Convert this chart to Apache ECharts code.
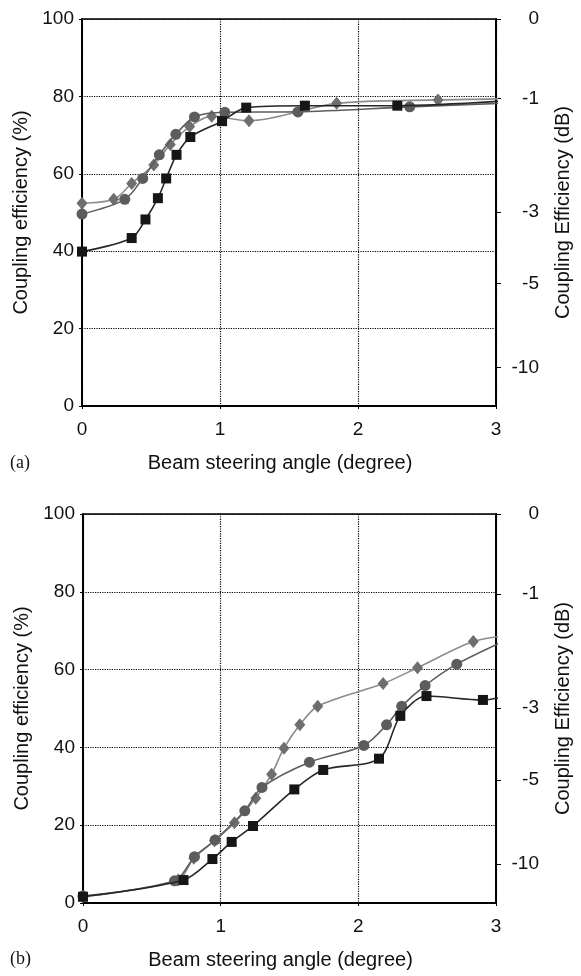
<!DOCTYPE html>
<html>
<head>
<meta charset="utf-8">
<script src="https://cdn.jsdelivr.net/npm/echarts@6/dist/echarts.min.js"></script>
<style>
html,body{margin:0;padding:0;background:#fff;}
#c{width:581px;height:976px;}
</style>
</head>
<body>
<div id="c"></div>
<script>
// ---- Data: panel (a) ----
var aSquareX = [0, 0.36, 0.46, 0.55, 0.61, 0.685, 0.785, 1.015, 1.19, 1.615, 2.285, 3.1];
var aSquareY = [39.9, 43.4, 48.2, 53.7, 58.8, 64.9, 69.5, 73.6, 77.1, 77.6, 77.6, 78.9];
var aCircleX = [0, 0.31, 0.44, 0.56, 0.68, 0.815, 1.035, 1.565, 2.375, 3.1];
var aCircleY = [49.6, 53.4, 58.8, 64.9, 70.2, 74.7, 75.9, 76.0, 77.3, 78.3];
var aDiamondX = [0, 0.23, 0.36, 0.52, 0.64, 0.78, 0.94, 1.21, 1.845, 2.58, 3.1];
var aDiamondY = [52.4, 53.4, 57.5, 62.3, 67.6, 72.2, 74.9, 73.7, 78.2, 79.1, 79.4];
// ---- Data: panel (b) ----
var bSquareX = [0, 0.73, 0.94, 1.08, 1.235, 1.535, 1.745, 2.15, 2.305, 2.495, 2.905, 3.1];
var bSquareY = [1.6, 5.9, 11.3, 15.7, 19.8, 29.2, 34.2, 37.1, 48.1, 53.2, 52.2, 53.4];
var bCircleX = [0, 0.665, 0.81, 0.96, 1.175, 1.3, 1.645, 2.04, 2.205, 2.315, 2.485, 2.715, 3.1];
var bCircleY = [1.8, 5.7, 11.9, 16.2, 23.7, 29.7, 36.2, 40.5, 45.8, 50.6, 55.9, 61.4, 68.0];
var bDiamondX = [0, 0.69, 0.805, 0.955, 1.1, 1.255, 1.37, 1.46, 1.575, 1.705, 2.18, 2.43, 2.835, 3.1];
var bDiamondY = [1.6, 5.9, 11.5, 16.0, 20.6, 26.9, 33.1, 39.8, 45.8, 50.6, 56.4, 60.5, 67.2, 68.8];
// ---- Axis ticks ----
var xTicks = [0, 1, 2, 3];
var yTicksPct = [0, 20, 40, 60, 80, 100];
var dbTicks = [0, -1, -3, -5, -10];
var panelLabels = ['(a)', '(b)'];
var xName = 'Beam steering angle (degree)';
var yLeftName = 'Coupling efficiency (%)';
var yRightName = 'Coupling Efficiency (dB)';

function pairs(xs, ys){ return xs.map(function(x,i){ return [x, ys[i]]; }); }
var dbPct = dbTicks.map(function(d){ return 100*Math.pow(10, d/10); });

var FONT = 'Liberation Sans, Arial, sans-serif';
var grids = [
  {left: 82, top: 19, width: 419, height: 387},
  {left: 83, top: 514, width: 419, height: 389}
];
var xAxes = [], yAxes = [], series = [];
grids.forEach(function(g, gi){
  g.show = true; g.borderColor = '#000'; g.borderWidth = 1.5; g.containLabel = false;
  xAxes.push({
    type: 'value', gridIndex: gi, min: xTicks[0], max: xTicks[xTicks.length-1], interval: 1,
    axisLine: {show: true, onZero: false, lineStyle: {color: '#000', width: 2}},
    axisTick: {show: true, length: 3, lineStyle: {color: '#000'}},
    axisLabel: {color: '#111', fontSize: 19, fontFamily: FONT, margin: 14},
    splitLine: {show: true, lineStyle: {type: 'dotted', color: '#000', width: 1.2}},
    name: xName, nameLocation: 'middle', nameGap: 47,
    nameTextStyle: {color: '#111', fontSize: 20, fontFamily: FONT, padding: [0, 18, 0, 0]}
  });
  yAxes.push({
    type: 'value', gridIndex: gi, min: 0, max: 100, interval: 20, position: 'left',
    axisLine: {show: true, onZero: false, lineStyle: {color: '#000', width: 2}},
    axisTick: {show: true, length: 3, lineStyle: {color: '#000'}},
    axisLabel: {color: '#111', fontSize: 19, fontFamily: FONT, margin: 8},
    splitLine: {show: true, lineStyle: {type: 'dotted', color: '#000', width: 1.2}},
    name: yLeftName, nameLocation: 'middle', nameGap: 50, nameRotate: 90,
    nameTextStyle: {color: '#111', fontSize: 20, fontFamily: FONT}
  });
  yAxes.push({
    type: 'value', gridIndex: gi, min: 0, max: 100, position: 'right',
    axisLine: {show: true, onZero: false, lineStyle: {color: '#000', width: 2}},
    axisTick: {show: true, length: 5, customValues: dbPct, lineStyle: {color: '#000'}},
    axisLabel: {show: true, customValues: dbPct, color: '#111', fontSize: 19, fontFamily: FONT,
      align: 'right', margin: 43,
      formatter: function(v){ return String(Math.round(10*Math.log10(v/100))); }},
    splitLine: {show: false},
    name: yRightName, nameLocation: 'middle', nameGap: 57, nameRotate: 90,
    nameTextStyle: {color: '#111', fontSize: 20, fontFamily: FONT}
  });
});

function mk(data, gi, symbol, size, mcolor, lcolor, z){
  return {
    type: 'line', xAxisIndex: gi, yAxisIndex: gi*2, data: data,
    smooth: 0.3, clip: true, symbol: symbol, symbolSize: size, showSymbol: true,
    lineStyle: {color: lcolor, width: 1.6},
    itemStyle: {color: mcolor, borderWidth: 0},
    z: z, animation: false
  };
}
series.push(mk(pairs(aDiamondX, aDiamondY), 0, 'diamond', [11, 13], '#6e6e6e', '#8c8c8c', 3));
series.push(mk(pairs(aCircleX, aCircleY), 0, 'circle', 11, '#5c5c5c', '#5c5c5c', 4));
series.push(mk(pairs(aSquareX, aSquareY), 0, 'rect', 10, '#161616', '#262626', 5));
series.push(mk(pairs(bDiamondX, bDiamondY), 1, 'diamond', [11, 13], '#6e6e6e', '#8c8c8c', 3));
series.push(mk(pairs(bCircleX, bCircleY), 1, 'circle', 11, '#5c5c5c', '#5c5c5c', 4));
series.push(mk(pairs(bSquareX, bSquareY), 1, 'rect', 10, '#161616', '#262626', 5));

var chart = echarts.init(document.getElementById('c'), null, {renderer: 'canvas'});
chart.setOption({
  animation: false,
  backgroundColor: '#fff',
  grid: grids,
  xAxis: xAxes,
  yAxis: yAxes,
  series: series,
  graphic: [
    {type: 'text', left: 10, top: 454, style: {text: panelLabels[0], font: '18px "Liberation Serif", serif', fill: '#111'}},
    {type: 'text', left: 10, top: 950, style: {text: panelLabels[1], font: '18px "Liberation Serif", serif', fill: '#111'}}
  ]
});
</script>
</body>
</html>
